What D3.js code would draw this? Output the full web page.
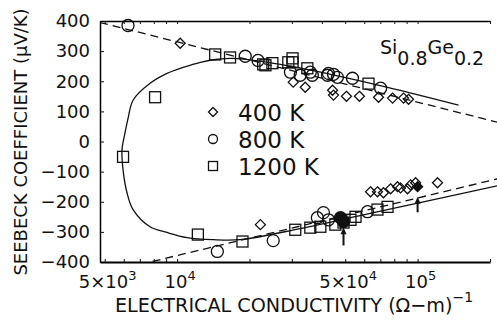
<!DOCTYPE html>
<html>
<head>
<meta charset="utf-8">
<script src="https://cdn.jsdelivr.net/npm/d3@7"></script>
<style>
    body { margin: 0; background: #fff; }
    text { font-family: "DejaVu Sans", sans-serif; fill: #111; }
</style>
</head>
<body>
<svg id="chart" width="497" height="322"></svg>
<script>
// conductivity (ohm-m)^-1 , seebeck (uV/K)
const diamonds400 = [
    [10300, 326], [30400, 197], [34100, 180], [44300, 170], [44700, 154], [50600, 150],
    [57300, 150], [68800, 147], [78700, 144], [87400, 144], [91700, 140],
    [22200, -276], [63700, -167], [68100, -167], [72100, -170], [77200, -157], [82500, -150],
    [84900, -154], [90800, -157], [93500, -144], [98100, -137], [121000, -137]
];
const filled400 = [[100000, -150]];

const circles800 = [
    [6250, 385], [19200, 283], [21700, 269], [29600, 230], [32500, 220], [35800, 230],
    [36500, 220], [42200, 220], [42600, 226], [44700, 223], [46400, 213], [53600, 210], [70200, 177],
    [14700, -365], [25100, -329], [38300, -253], [40600, -236], [42600, -260], [61900, -233]
];
const filled800 = [[47800, -253], [49200, -266]];

const squares1200 = [
    [5960, -51], [8100, 147], [14400, 289], [16600, 279], [22800, 256], [23300, 253],
    [24900, 260], [29000, 263], [30200, 276], [30200, 263], [34800, 243], [62500, 192],
    [12200, -309], [18700, -332], [31000, -293], [35800, -286], [39400, -283], [45500, -276],
    [49200, -269], [52600, -260], [55200, -250], [68100, -226], [75000, -217]
];

// bipolar fit (solid) and extrinsic lines (dashed)
const solidCurve = [
    [148000, 121], [75000, 180], [43400, 223], [26900, 256], [17100, 276], [14700, 273],
    [12500, 263], [10600, 246], [9080, 226], [7720, 193], [6560, 137], [6270, 81],
    [6070, 28], [5900, -28], [5960, -94], [6190, -170], [6560, -226], [7720, -283],
    [9080, -302], [11000, -319], [14100, -326], [18300, -326], [32500, -289],
    [65600, -236], [215000, -147]
];
const dashTop = [[4780, 395], [215000, 64]];
const dashBottom = [[7010, -408], [215000, -124]];

// arrows: conductivity, tail, head
const arrows = [[49200, -345, -285], [100000, -235, -183]];

const yTicks = [-400, -300, -200, -100, 0, 100, 200, 300, 400];
const xMinorTicks = [5000, 6000, 7000, 8000, 9000, 10000, 20000, 30000, 40000, 50000,
    60000, 70000, 80000, 90000, 100000, 200000];
const xLabelValues = [5000, 10000, 50000, 100000];
const xLabelBase = ['5×10', '10', '5×10', '10'];
const xLabelExp = ['3', '4', '4', '5'];
const legendLabels = ['400 K', '800 K', '1200 K'];

const svg = d3.select('#chart');
const plotLeft = 100, plotRight = 490, plotTop = 21, plotBottom = 262;

const x = d3.scaleLog().domain([4780, 200000]).range([plotLeft, plotRight]);
const y = d3.scaleLinear().domain([-400, 400]).range([plotBottom, plotTop]);

// the fit lines run a little past the right end of the axes
svg.append('defs').append('clipPath').attr('id', 'plot')
    .append('rect')
    .attr('x', plotLeft).attr('y', plotTop)
    .attr('width', 497 - plotLeft).attr('height', plotBottom - plotTop);

// axes
const yAxis = d3.axisLeft(y)
    .tickValues(yTicks)
    .tickSize(-4)
    .tickPadding(10)
    .tickSizeOuter(0)
    .tickFormat(d => d < 0 ? '−' + Math.abs(d) : d);

const yAxisG = svg.append('g')
    .attr('transform', `translate(${plotLeft},0)`)
    .call(yAxis);
yAxisG.selectAll('text').attr('font-size', 18).attr('font-family', 'DejaVu Sans').attr('fill', '#111');

const xAxisB = d3.axisBottom(x).tickValues(xMinorTicks).tickSize(-3).tickSizeOuter(0).tickFormat('');
const xAxisT = d3.axisTop(x).tickValues(xMinorTicks).tickSize(-3).tickSizeOuter(0).tickFormat('');

svg.append('g').attr('transform', `translate(0,${plotBottom})`).call(xAxisB)
    .call(g => g.select('.domain').attr('stroke-width', 2));
svg.append('g').attr('transform', `translate(0,${plotTop})`).call(xAxisT)
    .call(g => g.select('.domain').attr('stroke-width', 1.3));
yAxisG.select('.domain').attr('stroke-width', 1.5);
svg.selectAll('.tick line').attr('stroke', '#111');

// x tick labels with exponents
const xl = svg.append('g');
xLabelValues.forEach((v, i) => {
    const t = xl.append('text')
        .attr('x', x(v) + 3)
        .attr('y', 288)
        .attr('font-size', 18)
        .attr('text-anchor', 'middle');
    t.append('tspan').text(xLabelBase[i]);
    t.append('tspan').attr('font-size', 13).attr('dy', -8).text(xLabelExp[i]);
});

// axis titles
const xt = svg.append('text')
    .attr('x', 115)
    .attr('y', 312)
    .attr('font-size', 19.2);
xt.append('tspan').text('ELECTRICAL CONDUCTIVITY (Ω−m)');
xt.append('tspan').attr('font-size', 14).attr('dy', -10).text('−1');

svg.append('text')
    .attr('transform', 'translate(27,142) rotate(-90)')
    .attr('text-anchor', 'middle')
    .attr('font-size', 18)
    .text('SEEBECK COEFFICIENT (μV/K)');

// formula
const f = svg.append('text').attr('x', 380).attr('y', 54).attr('font-size', 19);
f.append('tspan').text('Si');
f.append('tspan').attr('dy', 11).text('0.8');
f.append('tspan').attr('dy', -11).text('Ge');
f.append('tspan').attr('dy', 11).text('0.2');

// curves
const line = d3.line().x(d => x(d[0])).y(d => y(d[1]));
const curves = svg.append('g').attr('clip-path', 'url(#plot)');

curves.append('path')
    .datum(solidCurve)
    .attr('d', line.curve(d3.curveCatmullRom))
    .attr('fill', 'none').attr('stroke', '#111').attr('stroke-width', 1.3);

[dashTop, dashBottom].forEach(seg => {
    curves.append('path')
        .datum(seg)
        .attr('d', d3.line().x(d => x(d[0])).y(d => y(d[1]))(seg))
        .attr('fill', 'none').attr('stroke', '#111').attr('stroke-width', 1.3)
        .attr('stroke-dasharray', '8,5');
});

// markers
const diamondPath = s => `M0,${-s}L${s},0L0,${s}L${-s},0Z`;
const marks = svg.append('g').attr('stroke', '#111').attr('stroke-width', 1.3);

marks.selectAll('.dia')
    .data(diamonds400.concat(filled400))
    .join('path')
    .attr('class', 'dia')
    .attr('d', diamondPath(5))
    .attr('transform', d => `translate(${x(d[0])},${y(d[1])})`)
    .attr('fill', (d, i) => i >= diamonds400.length ? '#111' : 'none');

marks.selectAll('.circ')
    .data(circles800.concat(filled800))
    .join('circle')
    .attr('class', 'circ')
    .attr('cx', d => x(d[0]))
    .attr('cy', d => y(d[1]))
    .attr('r', 6)
    .attr('fill', (d, i) => i >= circles800.length ? '#111' : 'none');

marks.selectAll('.sq')
    .data(squares1200)
    .join('rect')
    .attr('class', 'sq')
    .attr('x', d => x(d[0]) - 5.5)
    .attr('y', d => y(d[1]) - 5.5)
    .attr('width', 11)
    .attr('height', 11)
    .attr('fill', 'none');

// arrows
arrows.forEach(a => {
    const ax = x(a[0]);
    svg.append('line')
        .attr('x1', ax).attr('x2', ax)
        .attr('y1', y(a[1])).attr('y2', y(a[2]) + 4)
        .attr('stroke', '#111').attr('stroke-width', 2);
    svg.append('path')
        .attr('d', `M${ax},${y(a[2])}L${ax - 3},${y(a[2]) + 7}L${ax + 3},${y(a[2]) + 7}Z`)
        .attr('fill', '#111');
});

// legend
const legend = svg.append('g').attr('transform', 'translate(213,112)');
legendLabels.forEach((lab, i) => {
    const g = legend.append('g').attr('transform', `translate(0,${i * 27})`);
    if (i === 0) {
        g.append('path').attr('d', diamondPath(4.5));
    } else if (i === 1) {
        g.append('circle').attr('r', 4.5);
    } else {
        g.append('rect').attr('x', -4.5).attr('y', -4.5).attr('width', 9).attr('height', 9);
    }
    g.selectAll('path,circle,rect').attr('fill', 'none').attr('stroke', '#111').attr('stroke-width', 1.3);
    g.append('text')
        .attr('x', 25)
        .attr('y', 9)
        .attr('font-size', 23)
        .text(lab);
});
</script>
</body>
</html>
